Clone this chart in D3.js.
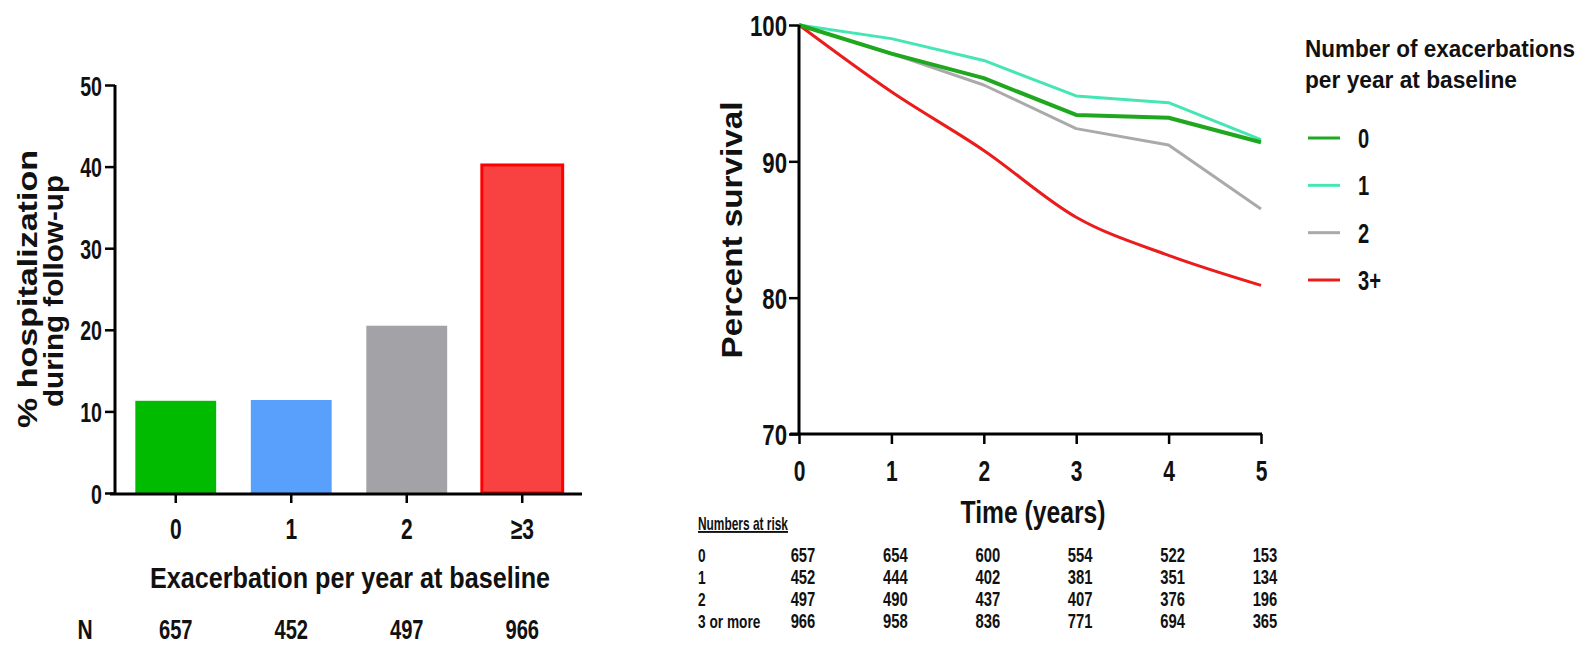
<!DOCTYPE html>
<html>
<head>
<meta charset="utf-8">
<script src="https://cdn.jsdelivr.net/npm/d3@7"></script>
<style>
  body { margin: 0; background: #fff; }
  text { font-family: "Liberation Sans", Arial, sans-serif; font-weight: bold; fill: #111; }
</style>
</head>
<body>
<div id="chart"></div>
<script>
// bar chart data
var barCats = ["0", "1", "2", "≥3"]
var barVals = [11.3, 11.4, 20.5, 40.2]
var barN = [657, 452, 497, 966]
var barColors = ["#00bb00", "#58a0fc", "#a3a3a7", "#f84242"]
var barTicks = [0, 10, 20, 30, 40, 50]

// survival data
var years = [0, 1, 2, 3, 4, 5]
var surv0 = [100, 97.9, 96.1, 93.4, 93.2, 91.4]
var surv1 = [100, 99.0, 97.4, 94.8, 94.3, 91.6]
var surv2 = [100, 97.9, 95.6, 92.4, 91.2, 86.5]
var surv3 = [100, 95.1, 90.8, 85.9, 83.1, 80.9]
var survNames = ["0", "1", "2", "3+"]
var survColors = ["#1fa81f", "#45e6b4", "#aaaaaa", "#ea1c1c"]
var survTicks = [70, 80, 90, 100]

// numbers at risk
var riskLabels = ["0", "1", "2", "3 or more"]
var risk0 = [657, 654, 600, 554, 522, 153]
var risk1 = [452, 444, 402, 381, 351, 134]
var risk2 = [497, 490, 437, 407, 376, 196]
var risk3 = [966, 958, 836, 771, 694, 365]

// squeeze text horizontally (condensed look)
function squeeze(sel, k) {
  sel.each(function () {
    var w = this.getComputedTextLength()
    this.setAttribute('textLength', w * k)
    this.setAttribute('lengthAdjust', 'spacingAndGlyphs')
  })
}
function fitTo(sel, len) {
  sel.attr('textLength', len).attr('lengthAdjust', 'spacingAndGlyphs')
}

var svg = d3.select('#chart').append('svg')
  .attr('width', 1580)
  .attr('height', 654)

// ---------------- left: bar chart ----------------
var yBar = d3.scaleLinear().domain([0, 50]).range([493, 85])
var xBar = d3.scaleBand().domain(barCats).range([118, 580])
  .paddingInner(0.3).paddingOuter(0.15)

svg.selectAll('rect.bar')
  .data(barVals)
  .enter().append('rect')
  .attr('class', 'bar')
  .attr('x', function (d, i) { return xBar(barCats[i]) })
  .attr('y', function (d) { return yBar(d) })
  .attr('width', xBar.bandwidth())
  .attr('height', function (d) { return yBar(0) - yBar(d) })
  .style('fill', function (d, i) { return barColors[i] })
  .style('stroke', function (d, i) { return i == 3 ? '#ff0000' : 'none' })
  .style('stroke-width', 3)

var yAxisL = svg.append('g')
  .attr('transform', 'translate(115,0)')
  .call(d3.axisLeft(yBar).tickValues(barTicks).tickSize(10).tickSizeOuter(0).tickPadding(3))
yAxisL.select('.domain').attr('stroke-width', 3).attr('d', 'M0,85V495')
yAxisL.selectAll('.tick line').attr('stroke-width', 2.5)
yAxisL.selectAll('text').style('font-size', '28px').attr('dy', '0.36em').call(squeeze, 0.7)

var xAxisL = svg.append('g')
  .attr('transform', 'translate(0,494)')
  .call(d3.axisBottom(xBar).tickSize(9).tickSizeOuter(0).tickPadding(13))
xAxisL.select('.domain').attr('stroke-width', 3).attr('d', 'M110,0H582')
xAxisL.selectAll('.tick line').attr('stroke-width', 2.5)
xAxisL.selectAll('text').style('font-size', '30px').attr('dy', '0.75em').call(squeeze, 0.7)

svg.append('text')
  .attr('x', 350).attr('y', 588)
  .attr('text-anchor', 'middle')
  .style('font-size', '29px')
  .text('Exacerbation per year at baseline')
  .call(fitTo, 400)

svg.append('text')
  .attr('x', 85).attr('y', 639)
  .attr('text-anchor', 'middle')
  .style('font-size', '28px')
  .text('N').call(squeeze, 0.75)

svg.selectAll('text.nval')
  .data(barN)
  .enter().append('text')
  .attr('class', 'nval')
  .attr('x', function (d, i) { return xBar(barCats[i]) + xBar.bandwidth() / 2 })
  .attr('y', 639)
  .attr('text-anchor', 'middle')
  .style('font-size', '28px')
  .text(function (d) { return d })
  .call(squeeze, 0.72)

svg.append('text')
  .attr('transform', 'translate(37,289) rotate(-90)')
  .attr('text-anchor', 'middle')
  .style('font-size', '28px')
  .text('% hospitalization')
  .call(fitTo, 278)
svg.append('text')
  .attr('transform', 'translate(63,291) rotate(-90)')
  .attr('text-anchor', 'middle')
  .style('font-size', '28px')
  .text('during follow-up')
  .call(fitTo, 232)

// ---------------- right: survival chart ----------------
var xS = d3.scaleLinear().domain([0, 5]).range([799, 1261])
var yS = d3.scaleLinear().domain([70, 100]).range([434, 25])

var series = [surv0, surv1, surv2, surv3]
var line = d3.line()
  .x(function (d, i) { return xS(years[i]) })
  .y(function (d) { return yS(d) })
var smooth = d3.line()
  .x(function (d, i) { return xS(years[i]) })
  .y(function (d) { return yS(d) })
  .curve(d3.curveMonotoneX)

// draw grey first, then red, then teal, then green on top
var order = [2, 3, 1, 0]
svg.selectAll('path.surv')
  .data(order)
  .enter().append('path')
  .attr('class', 'surv')
  .attr('d', function (k) { return k == 3 ? smooth(series[k]) : line(series[k]) })
  .style('fill', 'none')
  .style('stroke', function (k) { return survColors[k] })
  .style('stroke-width', function (k) { return k == 0 ? 4 : 3 })
  .style('stroke-linejoin', 'round')

var yAxisR = svg.append('g')
  .attr('transform', 'translate(799,0)')
  .call(d3.axisLeft(yS).tickValues(survTicks).tickSize(10).tickSizeOuter(0).tickPadding(2))
yAxisR.select('.domain').attr('stroke-width', 3).attr('d', 'M0,25V435')
yAxisR.selectAll('.tick line').attr('stroke-width', 2.5)
yAxisR.selectAll('text').style('font-size', '30px').attr('dy', '0.36em').call(squeeze, 0.74)

var xAxisR = svg.append('g')
  .attr('transform', 'translate(0,434)')
  .call(d3.axisBottom(xS).tickValues(years).tickFormat(d3.format('d'))
    .tickSize(10).tickSizeOuter(0).tickPadding(14))
xAxisR.select('.domain').attr('stroke-width', 3).attr('d', 'M790,0H1262')
xAxisR.selectAll('.tick line').attr('stroke-width', 2.5)
xAxisR.selectAll('text').style('font-size', '30px').attr('dy', '0.75em').call(squeeze, 0.7)

svg.append('text')
  .attr('x', 1033).attr('y', 523)
  .attr('text-anchor', 'middle')
  .style('font-size', '31px')
  .text('Time (years)')
  .call(fitTo, 145)

svg.append('text')
  .attr('transform', 'translate(742,230) rotate(-90)')
  .attr('text-anchor', 'middle')
  .style('font-size', '30px')
  .text('Percent survival')
  .call(fitTo, 257)

// legend
svg.append('text').attr('x', 1305).attr('y', 57)
  .style('font-size', '23px').text('Number of exacerbations').call(fitTo, 270)
svg.append('text').attr('x', 1305).attr('y', 88)
  .style('font-size', '23px').text('per year at baseline').call(fitTo, 212)

var legY = d3.scalePoint().domain(survNames).range([138, 280])
var leg = svg.selectAll('g.leg')
  .data(survNames)
  .enter().append('g')
  .attr('class', 'leg')
  .attr('transform', function (d) { return 'translate(1308,' + legY(d) + ')' })
leg.append('line')
  .attr('x1', 0).attr('x2', 32)
  .style('stroke', function (d, i) { return survColors[i] })
  .style('stroke-width', 3)
leg.append('text')
  .attr('x', 50).attr('y', 10)
  .style('font-size', '28px')
  .text(function (d) { return d })
  .call(squeeze, 0.72)

// numbers at risk table
svg.append('text').attr('x', 698).attr('y', 530)
  .style('font-size', '19px').style('text-decoration', 'underline')
  .text('Numbers at risk').call(fitTo, 90)

var riskRows = [risk0, risk1, risk2, risk3]
var rowY = d3.scalePoint().domain(riskLabels).range([562, 628])
var rows = svg.selectAll('g.riskrow')
  .data(riskRows)
  .enter().append('g')
  .attr('class', 'riskrow')
  .attr('transform', function (d, i) { return 'translate(0,' + rowY(riskLabels[i]) + ')' })
rows.append('text')
  .attr('x', 698)
  .style('font-size', '19px')
  .text(function (d, i) { return riskLabels[i] })
  .call(squeeze, 0.72)
rows.selectAll('text.rv')
  .data(function (d) { return d })
  .enter().append('text')
  .attr('class', 'rv')
  .attr('x', function (d, i) { return xS(years[i]) + 4 })
  .attr('text-anchor', 'middle')
  .style('font-size', '20px')
  .text(function (d) { return d })
  .call(squeeze, 0.74)
</script>
</body>
</html>
